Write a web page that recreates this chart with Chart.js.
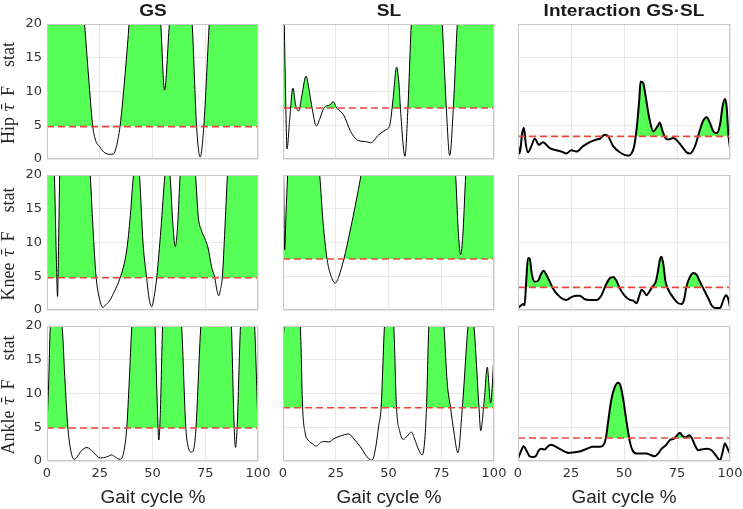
<!DOCTYPE html>
<html>
<head>
<meta charset="utf-8">
<script src="https://cdn.jsdelivr.net/npm/chart.js@4.4.1/dist/chart.umd.min.js"></script>
<style>
  body { margin: 0; width: 743px; height: 509px; background: #fff; position: relative; overflow: hidden; }
  canvas { position: absolute; }
  .title { position: absolute; top: 0; font: bold 17px "Liberation Sans", Arial, sans-serif; line-height: 22px; color: #1a1a1a; white-space: nowrap; transform: translateX(-50%) scaleX(1.12); }
  .xlab { position: absolute; top: 486px; font: 18px "Liberation Sans", Arial, sans-serif; line-height: 22px; color: #262626; white-space: nowrap; transform: translateX(-50%) scaleX(1.05); }
  .ylab { position: absolute; width: 160px; height: 20px; line-height: 20px; text-align: center; font: 18px "Liberation Serif", "DejaVu Serif", serif; color: #262626; white-space: nowrap; transform: rotate(-90deg); }
  .ylab .tau { font-family: "DejaVu Serif", serif; font-style: italic; font-size: 16px; margin-left: 5px; }
  .ylab .f { margin-left: 7px; }
  .ylab .s { margin-left: 19px; }
</style>
</head>
<body>
<script>
// x positions in gait cycle %, F statistic values (curves go off the top of the axes above 20)
const xTicks = [0, 25, 50, 75, 100];
const yTicks = [0, 5, 10, 15, 20];
const colTitles = ['GS', 'SL', 'Interaction GS\u00B7SL'];
const rowNames = ['Hip', 'Knee', 'Ankle'];

const thrHip = [4.8, 7.55, 3.35];
const thrKnee = [4.78, 7.55, 3.35];
const thrAnkle = [4.9, 7.9, 3.4];

const hipGSx = [0, 5, 10, 15, 17.8, 20, 21.7, 23, 25, 27, 28.5, 30, 31.5, 33, 34.6, 36, 38.9, 41, 45, 50, 53.9, 55.7, 58, 62, 66, 68.8, 70.9, 72.6, 74.3, 76.9, 80, 90, 100];
const hipGSy = [40, 40, 40, 30, 20, 11, 4.8, 2.8, 1.8, 1.0, 0.75, 0.7, 0.75, 2, 4.8, 9, 20, 30, 40, 35, 20, 10.2, 20, 35, 30, 20, 4.8, 0.3, 4.8, 20, 35, 40, 40];

const hipSLx = [0, 0.6, 1.2, 1.9, 3.2, 4.7, 6, 7.4, 9, 10.9, 12.5, 13.8, 15.8, 17.5, 19.3, 20.9, 22.3, 23.7, 25.6, 28.8, 32, 35.9, 39, 41.5, 45.4, 48.6, 50.6, 52.2, 53.8, 55, 55.7, 57.8, 59.2, 60.8, 63, 70, 74, 75.5, 77.5, 79, 80.8, 82.6, 85, 100];
const hipSLy = [28, 20, 10, 1.5, 6, 10.5, 8, 7.1, 9.5, 12.3, 10, 7.5, 4.9, 6, 7.5, 7.9, 8.0, 8.5, 7.5, 6.5, 4.1, 2.7, 2.6, 2.4, 3.6, 4.3, 5.0, 9, 13.6, 11, 7.3, 0.4, 7.5, 20, 30, 35, 28, 20, 7, 0.5, 8, 20, 30, 35];

const hipIntx = [0, 0.8, 2, 2.8, 3.6, 4.7, 6.3, 7.9, 9.9, 11.8, 15, 18.1, 20.5, 22.8, 25.2, 27.6, 30.7, 33.9, 37, 38.6, 40.9, 42.5, 44.9, 48, 52, 53.5, 54.8, 55.9, 57.2, 57.8, 59, 60.2, 61.9, 63.8, 65.7, 66.9, 68, 69.6, 70.9, 73.2, 74.8, 77.2, 79.5, 81.1, 83.5, 85.8, 87.4, 89, 90.6, 92.1, 93.7, 95.3, 96.5, 97.6, 98.4, 99.2, 100];
const hipInty = [2.0, 0.8, 3.9, 4.6, 2.4, 1.0, 1.9, 3.0, 2.1, 2.5, 1.6, 1.3, 1.1, 0.8, 1.3, 1.1, 1.9, 2.5, 2.9, 3.0, 3.6, 3.4, 1.9, 1.0, 0.5, 0.8, 1.9, 4.3, 8.8, 11.5, 11.3, 9.3, 6.1, 4.1, 4.8, 5.4, 4.3, 3.1, 2.9, 3.1, 2.8, 1.9, 1.0, 0.8, 1.9, 4.3, 5.7, 6.2, 5.3, 4.1, 3.8, 5.1, 7.8, 8.9, 7.8, 3.8, 1.6];

const kneeGSx = [0, 2, 3.5, 4.4, 5.0, 5.5, 6.0, 7, 12, 18, 20.5, 22, 23.3, 25, 26.5, 28, 29.9, 32, 34.6, 37.8, 39.5, 41, 42.4, 43.8, 45.5, 47.2, 48.5, 49.6, 50.8, 52, 54, 55.9, 57, 58.3, 59.6, 60.8, 62, 63.1, 65, 68, 70.4, 71.7, 73.2, 74.8, 76.4, 78, 79.5, 80.5, 81.4, 82.2, 83.1, 84.3, 85.5, 88, 100];
const kneeGSy = [40, 30, 20, 8, 2.0, 10, 20, 35, 40, 32, 20, 11, 4.8, 1.5, 0.4, 0.8, 1.5, 2.8, 4.7, 8.9, 14, 20, 22, 20, 10, 4.8, 1.5, 0.5, 2, 4.8, 12, 20, 22, 20, 13, 9.4, 13, 20, 28, 28, 20, 13.8, 11.8, 10.6, 9.1, 6.4, 4.8, 3, 2.1, 3, 4.8, 12, 20, 35, 40];

const kneeSLx = [0, 0.3, 0.8, 1.4, 2.2, 4, 10, 15, 17.4, 19, 20.9, 22.8, 24.8, 26.5, 28.8, 32, 37, 45, 60, 75, 81.8, 83, 84.2, 85.4, 86.6, 90, 100];
const kneeSLy = [30, 20, 8.9, 14, 20, 30, 35, 28, 20, 13, 7.5, 5, 4.0, 5, 7.5, 12, 20, 35, 40, 35, 20, 12, 8.2, 12, 20, 30, 35];

const kneeIntx = [0, 1.1, 2.4, 3.1, 3.9, 4.7, 5.5, 6.6, 7.9, 9.4, 11, 12.1, 13.4, 15, 16.5, 18.9, 21.3, 22.8, 25.2, 27.6, 29.1, 31.5, 33.9, 37, 39.4, 41.7, 43.3, 44.9, 46.5, 48, 50.4, 52.8, 54.3, 55.9, 57.2, 58.3, 59.4, 60.6, 61.9, 63.5, 65, 66.1, 66.9, 67.7, 68.5, 69.6, 70.9, 72.4, 74, 75.6, 77.2, 78.3, 79.5, 81.1, 82.7, 84.3, 85.8, 87.4, 89.8, 91.3, 92.9, 95.3, 96.9, 98.1, 99.1, 100];
const kneeInty = [0.3, 0.6, 0.9, 0.7, 4.4, 7.7, 7.6, 5.2, 4.2, 4.3, 5.4, 5.8, 5.2, 4.2, 3.2, 2.2, 1.6, 1.5, 1.9, 2.1, 2.1, 1.6, 1.5, 1.5, 2.2, 3.9, 4.7, 4.9, 4.3, 3.2, 2.1, 1.5, 1.4, 1.0, 2.1, 3.0, 2.7, 2.2, 2.7, 3.5, 4.2, 5.9, 7.4, 7.9, 6.9, 4.2, 3.0, 2.2, 1.5, 1.0, 0.9, 1.5, 3.5, 4.9, 5.5, 5.2, 4.2, 3.2, 1.7, 0.7, 0.3, 0.3, 1.5, 2.2, 1.7, 0.4];

const ankleGSx = [0, 0.8, 1.6, 3, 5, 7.1, 8.5, 9.9, 11.3, 12.9, 14.3, 15.7, 18.9, 22, 25.2, 28.3, 30.7, 32.3, 34.6, 36.2, 37.8, 39, 40.2, 42, 46, 49, 51.2, 52.2, 53.0, 53.7, 54.8, 57, 61, 63.8, 65.8, 67, 68.5, 69.7, 70.6, 72.9, 76, 84, 87.4, 88.5, 89.3, 90.1, 91.7, 94, 97, 98.4, 100];
const ankleGSy = [5.3, 11.7, 20, 21.5, 21.5, 20, 12, 4.9, 1.5, 0.25, 0.6, 1.3, 2.0, 1.3, 0.45, 0.6, 0.9, 0.6, 0.25, 1.1, 4.9, 12, 20, 28, 32, 28, 20, 9, 3.1, 7, 20, 28, 28, 20, 4.9, 2, 1.3, 2, 4.9, 20, 30, 30, 20, 7, 2.0, 4.9, 20, 28, 25, 20, 5];

const ankleSLx = [0, 0.5, 1.5, 5, 8.2, 9.3, 10.6, 11.4, 13.8, 15.8, 17.7, 19.3, 21.7, 24.1, 27.2, 31.2, 33.5, 36.7, 39.9, 42.2, 43.8, 45.4, 46.5, 48.1, 50, 52.5, 53.8, 55.4, 57, 58.9, 60.8, 62.3, 64.4, 66, 67.1, 68, 69.1, 72, 75, 76.3, 77.8, 79.4, 81, 82.9, 85, 87.7, 89, 90.5, 92.9, 93.7, 95.3, 96.8, 98.4, 100];
const ankleSLy = [17.2, 20, 25, 25, 20, 7.9, 4.0, 3.3, 2.6, 2.2, 2.7, 2.9, 2.8, 3.3, 3.7, 4.0, 3.3, 2.1, 0.6, 0.1, 1.8, 5.3, 7.9, 20, 25, 20, 7.9, 4.3, 3.2, 3.7, 4.3, 3.3, 1.6, 0.9, 2.8, 7.9, 20, 28, 25, 20, 11.7, 7.9, 4.3, 1.2, 7.9, 20, 23, 20, 7.9, 4.5, 8.7, 13.9, 8.6, 15.7];

const ankleIntx = [0, 1.1, 2.7, 3.9, 5.5, 7.1, 8.3, 9.9, 11, 12.6, 14.2, 15.7, 17.3, 19.7, 22, 23.6, 26.8, 29.1, 32.3, 35.4, 38.6, 40.2, 41.4, 42.5, 44.1, 45.7, 47.2, 48.3, 49.6, 51.2, 52.8, 54, 55.9, 58.3, 60.6, 62.5, 64.6, 66.1, 67.7, 69.6, 71.7, 73.5, 74.8, 76.4, 77.6, 79.2, 80.8, 82, 83.5, 85, 86.6, 89, 91.3, 93.4, 95.3, 96.5, 97.6, 98.9, 100];
const ankleInty = [0.35, 1.2, 2.2, 1.6, 0.7, 0.6, 0.7, 1.6, 1.8, 1.7, 2.2, 2.4, 2.2, 1.8, 1.4, 1.2, 1.3, 1.4, 1.8, 2.1, 2.1, 2.3, 3.3, 5.8, 9.2, 11.0, 11.6, 11.2, 9.2, 5.8, 2.8, 1.6, 1.1, 1.1, 1.1, 0.9, 0.7, 1.1, 1.8, 2.3, 3.1, 3.3, 3.7, 4.2, 3.7, 3.5, 3.8, 3.4, 2.3, 1.6, 1.7, 1.8, 1.6, 0.8, 0.1, 1.3, 2.6, 1.8, 1.1];

const panels = [
  [[hipGSx, hipGSy, thrHip[0]], [hipSLx, hipSLy, thrHip[1]], [hipIntx, hipInty, thrHip[2]]],
  [[kneeGSx, kneeGSy, thrKnee[0]], [kneeSLx, kneeSLy, thrKnee[1]], [kneeIntx, kneeInty, thrKnee[2]]],
  [[ankleGSx, ankleGSy, thrAnkle[0]], [ankleSLx, ankleSLy, thrAnkle[1]], [ankleIntx, ankleInty, thrAnkle[2]]]
];

// layout of the 3x3 grid (plot area boxes)
const colLeft = [47, 283, 518];
const colWidth = [211, 211, 212];
const rowTop = [24, 175, 326];
const plotH = 135;
const padTop = 10;
const padRight = 14;

const tickFont = { family: 'DejaVu Sans', size: 13 };

const boxPlugin = {
  id: 'box',
  afterDraw(chart) {
    const a = chart.chartArea;
    const c = chart.ctx;
    c.save();
    c.strokeStyle = '#c8c8c8';
    c.lineWidth = 1;
    c.strokeRect(Math.round(a.left) + 0.5, Math.round(a.top) + 0.5, Math.round(a.right - a.left) - 1, Math.round(a.bottom - a.top) - 1);
    c.restore();
  }
};

function noPad(s) {
  s.paddingTop = 0;
  s.paddingBottom = 0;
  s.paddingLeft = 0;
  s.paddingRight = 0;
}

function makePanel(r, c) {
  const [xs, ys, thr] = panels[r][c];
  const yw = c === 0 ? 47 : 12;
  const xb = r === 2 ? 26 : 10;
  const cv = document.createElement('canvas');
  cv.width = yw + colWidth[c] + padRight;
  cv.height = padTop + plotH + xb;
  cv.style.left = (colLeft[c] - yw) + 'px';
  cv.style.top = (rowTop[r] - padTop) + 'px';
  document.body.appendChild(cv);

  new Chart(cv.getContext('2d'), {
    type: 'line',
    data: {
      datasets: [
        {
          data: xs.map((x, i) => ({ x: x, y: ys[i] })),
          borderColor: '#000',
          borderWidth: c === 2 ? 2 : 1,
          pointRadius: 0,
          cubicInterpolationMode: 'monotone',
          fill: { target: { value: thr }, above: '#55ff55', below: 'rgba(0,0,0,0)' },
          order: 1
        },
        {
          data: [{ x: 0, y: thr }, { x: 100, y: thr }],
          borderColor: '#e8463f',
          borderWidth: 1.6,
          borderDash: [7, 4],
          pointRadius: 0,
          fill: false,
          order: 0
        }
      ]
    },
    options: {
      responsive: false,
      animation: false,
      events: [],
      layout: { padding: { top: padTop, right: padRight, left: 0, bottom: 0 } },
      plugins: { legend: { display: false }, tooltip: { enabled: false } },
      scales: {
        x: {
          type: 'linear',
          min: 0,
          max: 100,
          afterBuildTicks(s) { s.ticks = xTicks.map(v => ({ value: v })); },
          ticks: { display: r === 2, autoSkip: false, maxRotation: 0, padding: 5, color: '#333', font: tickFont },
          grid: { color: '#e8e8e8', drawTicks: false },
          border: { display: false },
          afterFit(s) { s.height = xb; noPad(s); }
        },
        y: {
          min: 0,
          max: 20,
          afterBuildTicks(s) { s.ticks = yTicks.map(v => ({ value: v })); },
          ticks: { display: c === 0, autoSkip: false, padding: 5, color: '#333', font: tickFont },
          grid: { color: '#e8e8e8', drawTicks: false },
          border: { display: false },
          afterFit(s) { s.width = yw; noPad(s); }
        }
      }
    },
    plugins: [boxPlugin]
  });
}

for (let r = 0; r < 3; r++) {
  for (let c = 0; c < 3; c++) makePanel(r, c);
}

// column titles and axis labels
colTitles.forEach((t, c) => {
  const d = document.createElement('div');
  d.className = 'title';
  d.textContent = t;
  d.style.left = (colLeft[c] + colWidth[c] / 2) + 'px';
  document.body.appendChild(d);

  const x = document.createElement('div');
  x.className = 'xlab';
  x.textContent = 'Gait cycle %';
  x.style.left = (colLeft[c] + colWidth[c] / 2) + 'px';
  document.body.appendChild(x);
});

rowNames.forEach((name, r) => {
  const d = document.createElement('div');
  d.className = 'ylab';
  const cy = rowTop[r] + plotH / 2 + 1;
  d.style.left = (7.6 - 80) + 'px';
  d.style.top = (cy - 10) + 'px';
  d.innerHTML = name + '<span class="tau">\u03C4\u0304</span><span class="f">F</span><span class="s">stat</span>';
  document.body.appendChild(d);
});
</script>
</body>
</html>
